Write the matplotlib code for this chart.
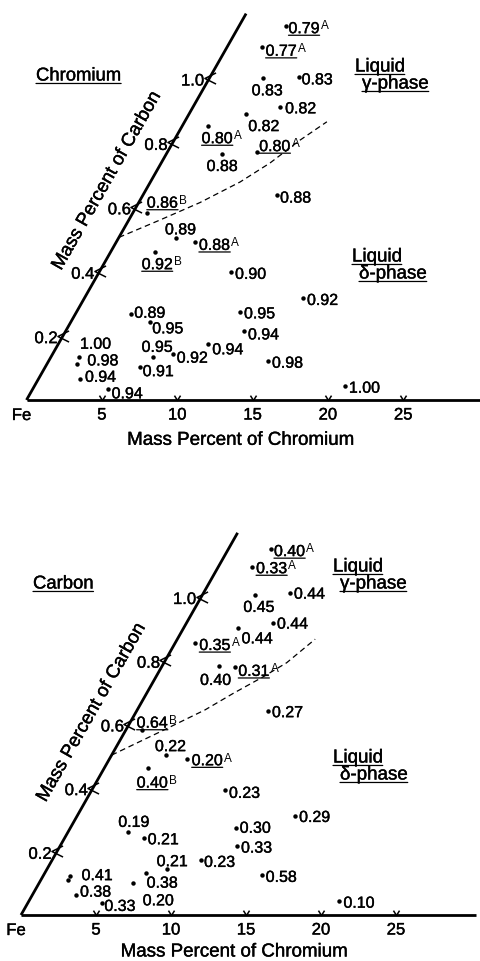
import matplotlib
matplotlib.use("Agg")
import matplotlib.pyplot as plt
import matplotlib.patheffects as pe
from matplotlib.transforms import Affine2D
from matplotlib.path import Path

plt.rcParams['font.family'] = ['Liberation Sans', 'DejaVu Sans']

# ---------------- Chromium panel (partition ratio of Cr) ----------------
chrom_cr = [3.12, 2.28, 3.58, 5.91, 5.79, 3.76, 1.71, 3.67, 5.97, 8.87,
            0.94, 3.80, 5.20, 2.93, 8.74, 14.53, 10.84, 11.85, 14.56, 20.6,
            3.70, 5.24, 6.74, 7.98, 9.96, 6.28, 1.88, 1.98, 2.76, 5.01]
chrom_c = [1.161, 1.097, 0.999, 1.002, 0.909, 0.888, 0.852, 0.764, 0.769, 0.637,
           0.580, 0.502, 0.492, 0.461, 0.398, 0.316, 0.274, 0.214, 0.122, 0.0435,
           0.266, 0.243, 0.134, 0.142, 0.173, 0.103, 0.132, 0.113, 0.065, 0.034]
chrom_ratio = ['0.79', '0.77', '0.83', '0.83', '0.82', '0.82', '0.80', '0.88', '0.80', '0.88',
               '0.86', '0.89', '0.88', '0.92', '0.90', '0.92', '0.95', '0.94', '0.98', '1.00',
               '0.89', '0.95', '0.95', '0.92', '0.94', '0.91', '1.00', '0.98', '0.94', '0.94']
chrom_note = ['A', 'A', '', '', '', '', 'A', '', 'A', '',
              'B', '', 'A', 'B', '', '', '', '', '', '',
              '', '', '', '', '', '', '', '', '', '']
chrom_bound_cr = [0.0, 2.07, 4.06, 5.95, 7.22, 8.35, 9.44]
chrom_bound_c = [0.505, 0.559, 0.613, 0.677, 0.736, 0.807, 0.864]

# ---------------- Carbon panel (partition ratio of C) ----------------
carb_cr = [2.83, 2.26, 5.75, 3.51, 5.77, 3.65, 1.31, 3.78, 4.88, 8.77,
           1.05, 3.60, 5.19, 2.94, 8.88, 14.53, 11.04, 11.81, 14.53, 20.7,
           4.00, 5.32, 8.03, 9.92, 6.71, 6.29, 1.78, 1.83, 2.91, 4.94]
carb_c = [1.148, 1.094, 1.012, 1.005, 0.918, 0.900, 0.855, 0.783, 0.780, 0.641,
          0.581, 0.502, 0.490, 0.461, 0.392, 0.311, 0.272, 0.217, 0.126, 0.044,
          0.262, 0.241, 0.143, 0.173, 0.133, 0.0995, 0.123, 0.110, 0.063, 0.037]
carb_ratio = ['0.40', '0.33', '0.44', '0.45', '0.44', '0.44', '0.35', '0.40', '0.31', '0.27',
              '0.64', '0.22', '0.20', '0.40', '0.23', '0.29', '0.30', '0.33', '0.58', '0.10',
              '0.19', '0.21', '0.21', '0.23', '0.38', '0.20', '0.41', '', '0.38', '0.33']
carb_note = ['A', 'A', '', '', '', '', 'A', '', 'A', '',
             'B', '', 'A', 'B', '', '', '', '', '', '',
             '', '', '', '', '', '', '', '', '', '']
carb_bound_cr = [0.0, 2.35, 4.52, 5.78, 7.15, 8.18, 9.19]
carb_bound_c = [0.502, 0.575, 0.644, 0.696, 0.748, 0.792, 0.866]

cr_ticks = [5, 10, 15, 20, 25]
c_ticks = [0.2, 0.4, 0.6, 0.8, 1.0]

# label placement relative to each dot (pixels, +y upwards)
chrom_dx = [2.5, 4, -11.6, 2.7, 5, 2.6, -6.6, -15, 2, 3.3, 0, -10.7, 4, -13.3, 4,
            3.7, 4, 3.7, 3.7, 4, 3.3, 2.3, -11, 4, 4, 2.7, 1, 10.3, 5, 3.4]
chrom_dy = [-1, -3, -11, -1, 0, -11, -11.5, -11, 7.3, -1.7, 11.6, 10, -2.3, -11.6, -1,
            -0.7, -0.6, -2.3, -1, -0.7, 2.6, -5.6, 11, -2.4, -4, -3.3, 14.8, 4.2, 3.3, -3.3]
carb_dx = [3.3, 3.7, 4, -11.7, 3.7, 3.4, 4.3, -19, 3.3, 3.7, -5, -10.7, 4.4, -11.6, 4,
           4, 4, 3.7, 4, 4, -10, 3.4, -10.6, 3, 1, 9.4, 11.7, 0, 4, 2.6]
carb_dy = [-0.7, -0.6, 0, -11, 0, -9, -1.3, -13.3, -3.3, -0.3, 8.3, 10, -0.3, -13.4, -1.7,
           0, 1.6, -0.7, -1, -0.7, 10.7, 0, 9.3, -1, -9, -16, 1.7, 0, 4.3, -1.7]

W, H = 480, 961
PT = 72.0 / 100.0  # points per pixel at 100 dpi

# slightly heavier lettering, like stencil-drawn figure text
INK = [pe.withStroke(linewidth=0.28, foreground='k')]

fig = plt.figure(figsize=(W / 100, H / 100), dpi=100)
fig.patch.set_facecolor('white')

V_MARK = Path([(-1.0, 1.6), (0.0, 0.0), (1.0, 1.6)], [Path.MOVETO, Path.LINETO, Path.LINETO])
LT_MARK = Path([(1.0, 1.0), (-1.0, 0.0), (1.0, -1.0)], [Path.MOVETO, Path.LINETO, Path.LINETO])


def underline(ax, txt, lw=0.9):
    ax.annotate('', xy=(0, 0.06), xycoords=txt, xytext=(1, 0.06), textcoords=txt,
                arrowprops=dict(arrowstyle='-', lw=lw, color='k', shrinkA=0, shrinkB=0))


def draw_panel(ax, geom, xs, cs, ratios, notes, dxs, dys, bx, bc,
               title, title_xy, gamma_xy, delta_xy, xlab_off, ylab_c):
    x0, y0, sx, cx, cy = geom
    obl = Affine2D.from_values(sx, 0, cx, cy, x0, y0) + ax.transData

    # axes of the oblique diagram
    ax.plot([0, 30.3], [0, 0], color='k', lw=2.0, transform=obl, clip_on=False,
            solid_capstyle='butt')
    ax.plot([0, 0], [0, 1.2], color='k', lw=2.0, transform=obl, clip_on=False,
            solid_capstyle='butt')
    ax.plot(cr_ticks, [0] * len(cr_ticks), ls='none', marker=V_MARK, ms=7,
            mfc='none', mec='k', mew=1.1, transform=obl, clip_on=False)
    ax.plot([0] * len(c_ticks), c_ticks, ls='none', marker=LT_MARK, ms=8,
            mfc='none', mec='k', mew=1.1, transform=obl, clip_on=False)

    for t in cr_ticks:
        ax.annotate(str(t), xy=(t, 0), xycoords=obl, xytext=(0, -13.5 * PT),
                    textcoords='offset points', ha='center', va='center_baseline',
                    fontsize=12, path_effects=INK)
    ax.annotate('Fe', xy=(0, 0), xycoords=obl, xytext=(-5 * PT, -14 * PT),
                textcoords='offset points', ha='center', va='center_baseline', fontsize=12,
                path_effects=INK)
    for t in c_ticks:
        ax.annotate(f'{t:.1f}', xy=(0, t), xycoords=obl, xytext=(-5.5 * PT, -1.5 * PT),
                    textcoords='offset points', ha='right', va='center_baseline',
                    fontsize=12, path_effects=INK)

    ax.annotate('Mass Percent of Chromium', xy=(14.2, 0), xycoords=obl,
                xytext=(0, xlab_off * PT), textcoords='offset points',
                ha='center', va='center_baseline', fontsize=13.5, path_effects=INK)
    ax.annotate('Mass Percent of Carbon', xy=(0, ylab_c), xycoords=obl,
                xytext=(-44 * PT, 0), textcoords='offset points', rotation=60.4,
                rotation_mode='anchor', ha='center', va='center', fontsize=13.5,
                path_effects=INK)

    # gamma / delta boundary
    ax.plot(bx, bc, color='k', lw=0.9, ls=(0, (4.5, 3)), transform=obl, clip_on=False)

    # measured alloys
    ax.plot(xs, cs, 'o', ms=3.2, color='k', mec='none', transform=obl, clip_on=False)
    for x, c, r, n, dx, dy in zip(xs, cs, ratios, notes, dxs, dys):
        if not r:
            continue
        t = ax.annotate(r, xy=(x, c), xycoords=obl, xytext=(dx * PT, dy * PT),
                        textcoords='offset points', ha='left', va='center_baseline',
                        fontsize=11.5, path_effects=INK)
        if n:
            underline(ax, t)
            ax.annotate(n, xy=(1, 1), xycoords=t, xytext=(0.8, 0.5),
                        textcoords='offset points', ha='left', va='top', fontsize=8.5)

    tt = ax.text(title_xy[0], title_xy[1], title, ha='left', va='center_baseline',
                 fontsize=13.3, path_effects=INK)
    underline(ax, tt)
    for (lx, ly), phase in ((gamma_xy, 'γ-phase'), (delta_xy, 'δ-phase')):
        a = ax.text(lx, ly, 'Liquid', ha='left', va='center_baseline', fontsize=13.5,
                    path_effects=INK)
        b = ax.text(lx + 7, ly + 17, phase, ha='left', va='center_baseline', fontsize=13.5,
                    path_effects=INK)
        underline(ax, a)
        underline(ax, b)


ax_top = fig.add_axes([0, 1 - 480 / H, 1, 480 / H])
ax_top.set_xlim(0, W)
ax_top.set_ylim(480, 0)
ax_top.set_axis_off()

ax_bot = fig.add_axes([0, 0, 1, 481 / H])
ax_bot.set_xlim(0, W)
ax_bot.set_ylim(H, 480)
ax_bot.set_axis_off()

draw_panel(ax_top, (26.5, 400.0, 15.07, 183.0, -322.0),
           chrom_cr, chrom_c, chrom_ratio, chrom_note, chrom_dx, chrom_dy,
           chrom_bound_cr, chrom_bound_c,
           'Chromium', (36, 74), (355, 65), (352, 255), -38.3, 0.68)
draw_panel(ax_bot, (21.0, 915.0, 15.0, 180.5, -318.5),
           carb_cr, carb_c, carb_ratio, carb_note, carb_dx, carb_dy,
           carb_bound_cr, carb_bound_c,
           'Carbon', (33, 582), (333, 565), (333, 756), -35.0, 0.635)

fig.savefig('out.png', dpi=100, facecolor='white')
